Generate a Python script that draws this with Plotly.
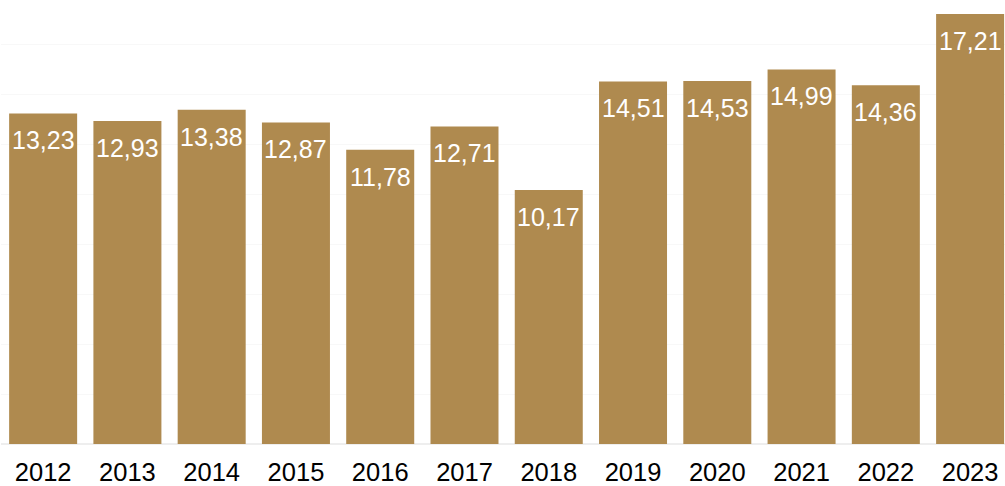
import plotly.graph_objects as go

years = ["2012", "2013", "2014", "2015", "2016", "2017", "2018", "2019", "2020", "2021", "2022", "2023"]
values = [13.23, 12.93, 13.38, 12.87, 11.78, 12.71, 10.17, 14.51, 14.53, 14.99, 14.36, 17.21]
labels = [f"{v:.2f}".replace(".", ",") for v in values]

BAR = "#AF8A4F"
FONT = "Liberation Sans, Arial, sans-serif"

fig = go.Figure(go.Bar(x=years, y=values, marker=dict(color=BAR, line=dict(width=0)),
                       hoverinfo="skip"))

for i, (v, t) in enumerate(zip(values, labels)):
    fig.add_annotation(x=i, y=v, xref="x", yref="y", text=t, showarrow=False,
                       yanchor="top", yshift=-11,
                       font=dict(family=FONT, size=25, color="white"))

fig.update_layout(
    width=1005, height=486,
    margin=dict(l=1, r=0, t=0, b=40),
    paper_bgcolor="white", plot_bgcolor="white",
    bargap=0.193,
    showlegend=False,
    font=dict(family=FONT, size=25, color="#000000"),
    xaxis=dict(type="category", range=[-0.5, 11.414], showgrid=False, ticks="",
               showline=False, ticklabelstandoff=10,
               tickfont=dict(size=25.5, color="#000000")),
    yaxis=dict(range=[0, 17.77], dtick=2, showticklabels=False, showgrid=True,
               gridcolor="#f8f8f8", gridwidth=1, zeroline=True, zerolinecolor="#eeeeee",
               zerolinewidth=2),
)

fig.write_html("out.html", config={"displayModeBar": False},
               post_script="document.body.style.margin='0';")
